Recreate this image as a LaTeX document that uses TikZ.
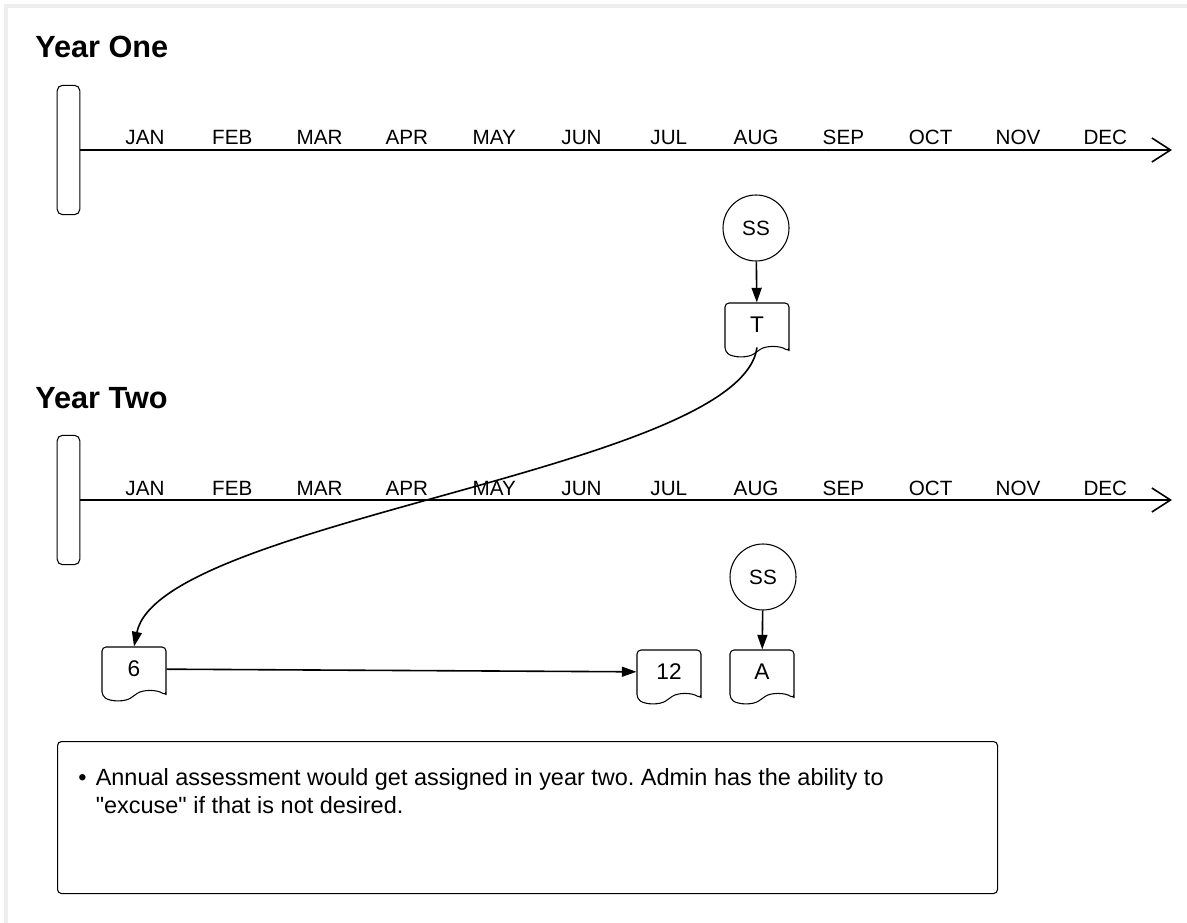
\documentclass[tikz,border=0pt]{standalone}
\usepackage{fontspec}
\setmainfont{Liberation Sans}
\usepackage{tikz}
\usetikzlibrary{positioning,calc,shapes.symbols,arrows.meta}
\definecolor{ShadowGray}{RGB}{238,238,238}
\tikzset{
    yearbar/.style={draw, thick, rounded corners=4pt, minimum width=17pt, minimum height=97pt, inner sep=0pt},
    month/.style={font=\fontsize{15.5}{18}\selectfont, anchor=base, inner sep=0pt},
    yeartitle/.style={font=\bfseries\fontsize{23}{27}\selectfont, anchor=base west, inner sep=0pt}
}
\frenchspacing
\begin{document}
\begin{tikzpicture}[
        x=0.75pt, y=-0.75pt,
        % --- TRỤC THỜI GIAN ---
        axis/.style={draw, line width=1.4pt, -{Straight Barb[length=14pt, width=18pt, line width=1.2pt]}},
        link/.style={draw, line width=1.2pt, -{Triangle[length=11pt, width=7.5pt]}},
        % --- NÚT VÀ CHỮ ---
        event/.style={circle, draw, thick, minimum size=49.5pt, inner sep=0pt, font=\fontsize{15.5}{18}\selectfont},
        docnode/.style={tape, draw, thick, tape bend top=none, tape bend bottom=in and out, tape bend height=7pt,
            rounded corners=3pt, minimum width=48pt, minimum height=40pt, inner sep=0pt,
            font=\fontsize{17}{20}\selectfont},
        notebox/.style={draw, thick, rounded corners=3pt, minimum width=705pt, minimum height=114pt, anchor=north west},
        notetext/.style={font=\fontsize{17.6}{21}\selectfont, anchor=base west, inner sep=0pt, align=left}
    ]

        \useasboundingbox (0,0) rectangle (1187,923);
        % --- KHUNG MỜ ---
        \draw[ShadowGray, line width=2.5pt] (6,923) -- (6,6) -- (1187,6);

        % --- NĂM MỘT ---
        \node[yeartitle] (title1) at (35,58) {Year One};
        \node[yearbar] (bar1) at (68.5,150) {};
        \coordinate (end1) at (1172,150);
        \draw[axis] (bar1.east) -- (end1);
        \foreach \m [count=\i] in {JAN,FEB,MAR,APR,MAY,JUN,JUL,AUG,SEP,OCT,NOV,DEC}
            \node[month] (ma\i) at ({145+87.3*(\i-1)},145) {\m};

        \node[event] (ss1) at (756,228) {SS};
        \node[docnode] (t1) at (757,325) {T};
        \draw[link] (ss1) -- (t1);

        % --- NĂM HAI ---
        \node[yeartitle] (title2) at (35,408) {Year Two};
        \node[yearbar] (bar2) at (68.5,500) {};
        \coordinate (end2) at (1172,500);
        \draw[axis] (bar2.east) -- (end2);
        \foreach \m [count=\i] in {JAN,FEB,MAR,APR,MAY,JUN,JUL,AUG,SEP,OCT,NOV,DEC}
            \node[month] (mb\i) at ({145+87.3*(\i-1)},495) {\m};

        \node[event] (ss2) at (763,577) {SS};
        \node[docnode] (d6) at (134,669) {6};
        \node[docnode] (d12) at (669,672) {12};
        \node[docnode] (da) at (762,672) {A};
        \draw[link] (ss2) -- (da);
        \draw[link] (d6) -- (d12);
        \draw[link] (t1.south) .. controls (740,470) and (160,520) .. (d6.north);

        % --- GHI CHÚ ---
        \node[notebox] (note) at (57,741) {};
        \node[notetext] (notetxt) at (78,800) {%
            \begin{tabular}{@{}l@{\hspace{7pt}}l@{}}
            \textbullet & Annual assessment would get assigned in year two. Admin has the ability to\\
                        & \textquotedbl excuse\textquotedbl{} if that is not desired.
            \end{tabular}};

    \end{tikzpicture}
\end{document}
